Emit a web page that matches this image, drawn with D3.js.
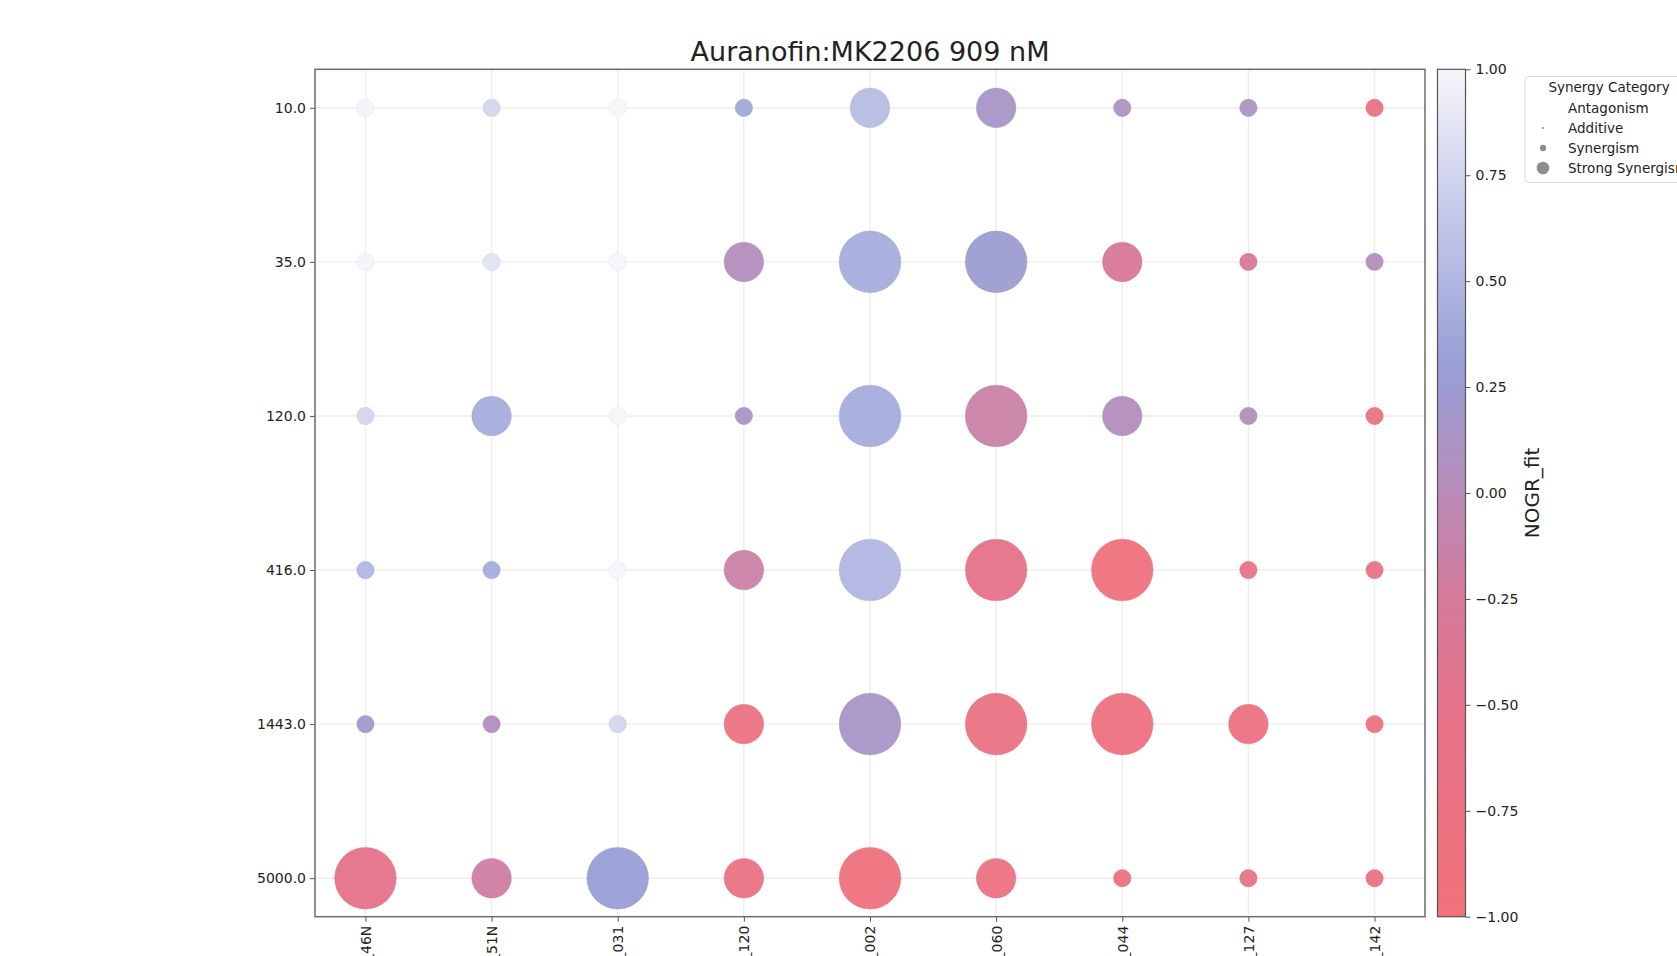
<!DOCTYPE html>
<html>
<head>
<meta charset="utf-8">
<script src="https://cdn.jsdelivr.net/npm/d3@7"></script>
<style>
  body { margin: 0; background: #fff; }
  svg text { font-family: "DejaVu Sans", sans-serif; fill: #222; }
</style>
</head>
<body>
<div id="chart"></div>
<script>
/* ---------- data ---------- */
const TITLE = "Auranofin:MK2206 909 nM";
const SAMPLES = ["ID_46N", "ID_51N", "ID_031", "ID_120", "ID_002", "ID_060", "ID_044", "ID_127", "ID_142"];
const DOSES = ["10.0", "35.0", "120.0", "416.0", "1443.0", "5000.0"];

// NOGR_fit per dose (row) x sample (column)
const NOGR = [
  [ 0.98,  0.75,  0.99,  0.38,  0.55,  0.15,  0.10,  0.10, -0.70],
  [ 0.98,  0.85,  0.99,  0.05,  0.42,  0.25, -0.30, -0.30,  0.05],
  [ 0.75,  0.42,  0.99,  0.15,  0.42, -0.15,  0.05,  0.05, -0.60],
  [ 0.50,  0.42,  0.99, -0.15,  0.50, -0.55, -0.90, -0.65, -0.65],
  [ 0.20,  0.05,  0.75, -0.75,  0.15, -0.70, -0.85, -0.80, -0.80],
  [-0.50, -0.20,  0.30, -0.70, -0.90, -0.75, -0.75, -0.60, -0.65]
];
// bubble size level (1 small, 2 medium, 3 large)
const SIZE_LEVEL = [
  [1, 1, 1, 1, 2, 2, 1, 1, 1],
  [1, 1, 1, 2, 3, 3, 2, 1, 1],
  [1, 2, 1, 1, 3, 3, 2, 1, 1],
  [1, 1, 1, 2, 3, 3, 3, 1, 1],
  [1, 1, 1, 2, 3, 3, 3, 2, 1],
  [3, 2, 3, 2, 3, 2, 1, 1, 1]
];
const LEGEND_CATS = ["Antagonism", "Additive", "Synergism", "Strong Synergism"];
const LEGEND_R = [0, 1, 3.2, 6.3];
const CBAR_TICKS = [1, 0.75, 0.5, 0.25, 0, -0.25, -0.5, -0.75, -1];
const CMAP_DOMAIN = [-1, -0.5, -0.25, 0, 0.3, 0.6, 1];
const CMAP_COLORS = ["#f2717a", "#e5728a", "#d47a9a", "#b98bb8", "#979fd6", "#bcc2e6", "#f6f6fb"];

/* ---------- layout ---------- */
const W = 1677, H = 956;
const P = { left: 315, right: 1425, top: 69.3, bottom: 916.7 };
const CB = { left: 1437.5, right: 1465.5 };

const svg = d3.select("#chart").append("svg")
  .attr("width", W).attr("height", H);

const x = d3.scalePoint().domain(SAMPLES).range([P.left, P.right]).padding(0.4);
const y = d3.scalePoint().domain(DOSES).range([P.top, P.bottom]).padding(0.25);
const r = d3.scaleLinear().domain([1, 3]).range([8.7, 30.8]);
const color = d3.scaleLinear().domain(CMAP_DOMAIN).range(CMAP_COLORS).interpolate(d3.interpolateRgb);

// grid
const grid = svg.append("g");
grid.selectAll("line.gx").data(SAMPLES).join("line")
  .attr("x1", d => x(d)).attr("x2", d => x(d))
  .attr("y1", P.top).attr("y2", P.bottom)
  .attr("stroke", "#f0eeec").attr("stroke-width", 1.4);
grid.selectAll("line.gy").data(DOSES).join("line")
  .attr("y1", d => y(d)).attr("y2", d => y(d))
  .attr("x1", P.left).attr("x2", P.right)
  .attr("stroke", "#f0eeec").attr("stroke-width", 1.4);

// bubbles
const cells = [];
DOSES.forEach((dose, i) => SAMPLES.forEach((s, j) => {
  cells.push({ dose, sample: s, v: NOGR[i][j], lvl: SIZE_LEVEL[i][j] });
}));
svg.append("g").selectAll("circle").data(cells).join("circle")
  .attr("cx", d => x(d.sample))
  .attr("cy", d => y(d.dose))
  .attr("r", d => r(d.lvl))
  .attr("fill", d => color(d.v))
  .attr("fill-opacity", 0.95)
  .attr("stroke", d => d3.color(color(d.v)).darker(0.25))
  .attr("stroke-opacity", 0.4)
  .attr("stroke-width", 1);

// axes
const yAxis = svg.append("g")
  .attr("transform", `translate(${P.left},0)`)
  .call(d3.axisLeft(y).tickSize(5).tickPadding(4));
const xAxis = svg.append("g")
  .attr("transform", `translate(0,${P.bottom})`)
  .call(d3.axisBottom(x).tickSize(5).tickPadding(4));
[yAxis, xAxis].forEach(a => {
  a.select(".domain").remove();
  a.selectAll(".tick line").attr("stroke", "#555").attr("stroke-width", 1);
  a.selectAll(".tick text").style("font-size", "14px").attr("fill", "#222");
});
xAxis.selectAll(".tick text")
  .attr("text-anchor", "end")
  .attr("transform", "rotate(-90)")
  .attr("x", -9).attr("y", 0).attr("dy", "0.35em");

// frame
svg.append("rect")
  .attr("x", P.left).attr("y", P.top)
  .attr("width", P.right - P.left).attr("height", P.bottom - P.top)
  .attr("fill", "none").attr("stroke", "#6b6b6b").attr("stroke-width", 1.5);

// title
svg.append("text")
  .attr("x", (P.left + P.right) / 2).attr("y", 61)
  .attr("text-anchor", "middle")
  .style("font-size", "27px")
  .text(TITLE);

/* ---------- colorbar ---------- */
const cy = d3.scaleLinear().domain([-1, 1]).range([P.bottom, P.top]);
const grad = svg.append("defs").append("linearGradient")
  .attr("id", "cbar").attr("x1", 0).attr("x2", 0).attr("y1", 1).attr("y2", 0);
grad.selectAll("stop").data(CMAP_DOMAIN).join("stop")
  .attr("offset", d => (d + 1) / 2)
  .attr("stop-color", d => color(d));
svg.append("rect")
  .attr("x", CB.left).attr("y", P.top)
  .attr("width", CB.right - CB.left).attr("height", P.bottom - P.top)
  .attr("fill", "url(#cbar)")
  .attr("stroke", "#555").attr("stroke-width", 1.2);
const cAxis = svg.append("g")
  .attr("transform", `translate(${CB.right},0)`)
  .call(d3.axisRight(cy).tickValues(CBAR_TICKS).tickFormat(d3.format(".2f")).tickSize(5).tickPadding(5));
cAxis.select(".domain").remove();
cAxis.selectAll(".tick line").attr("stroke", "#555");
cAxis.selectAll(".tick text").style("font-size", "14px").attr("fill", "#222");
svg.append("text")
  .attr("transform", `translate(1539,${(P.top + P.bottom) / 2}) rotate(-90)`)
  .attr("text-anchor", "middle")
  .style("font-size", "20px")
  .text("NOGR_fit");

/* ---------- legend ---------- */
const lg = svg.append("g");
lg.append("rect")
  .attr("x", 1525).attr("y", 76.5).attr("width", 170).attr("height", 106)
  .attr("rx", 4)
  .attr("fill", "#fff").attr("fill-opacity", 0.85)
  .attr("stroke", "#dcdcdc").attr("stroke-width", 1);
lg.append("text")
  .attr("x", 1609).attr("y", 92.3)
  .attr("text-anchor", "middle")
  .style("font-size", "13.5px")
  .text("Synergy Category");
const item = lg.selectAll("g.item").data(LEGEND_CATS).join("g")
  .attr("class", "item")
  .attr("transform", (d, i) => `translate(0,${112.5 + i * 20})`);
item.append("circle")
  .attr("cx", 1543).attr("cy", -4.5)
  .attr("r", (d, i) => LEGEND_R[i])
  .attr("fill", "#7a7a7a").attr("fill-opacity", 0.85);
item.append("text")
  .attr("x", 1568).attr("y", 0)
  .style("font-size", "13.5px")
  .text(d => d);
</script>
</body>
</html>
